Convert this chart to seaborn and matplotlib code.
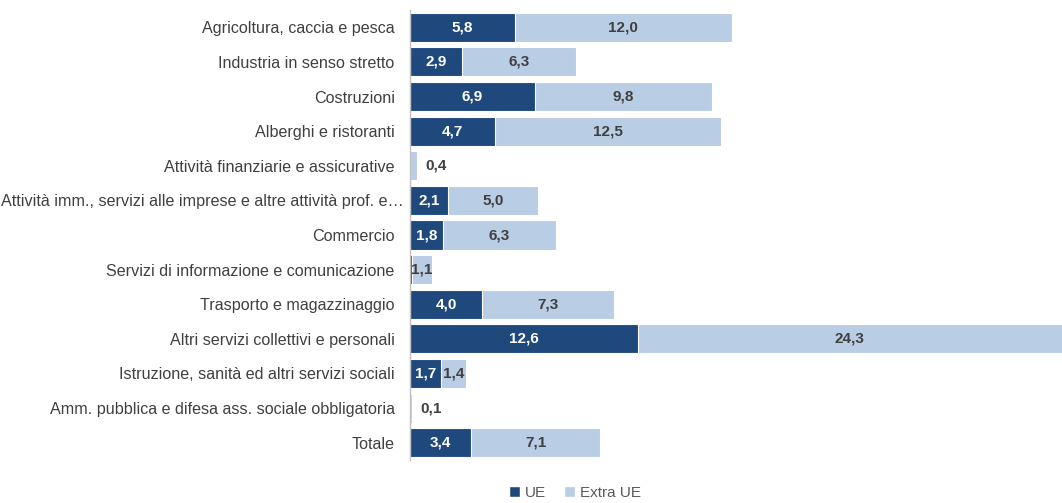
import matplotlib
matplotlib.use("Agg")
import matplotlib.pyplot as plt
import matplotlib.transforms as mtransforms
import seaborn as sns
import pandas as pd
from matplotlib.patches import Patch

categories = [
    "Agricoltura, caccia e pesca",
    "Industria in senso stretto",
    "Costruzioni",
    "Alberghi e ristoranti",
    "Attività finanziarie e assicurative",
    "Attività imm., servizi alle imprese e altre attività prof. e…",
    "Commercio",
    "Servizi di informazione e comunicazione",
    "Trasporto e magazzinaggio",
    "Altri servizi collettivi e personali",
    "Istruzione, sanità ed altri servizi sociali",
    "Amm. pubblica e difesa ass. sociale obbligatoria",
    "Totale",
]
ue = [5.8, 2.9, 6.9, 4.7, 0.0, 2.1, 1.8, 0.1, 4.0, 12.6, 1.7, 0.0, 3.4]
extra_ue = [12.0, 6.3, 9.8, 12.5, 0.4, 5.0, 6.3, 1.1, 7.3, 24.3, 1.4, 0.1, 7.1]
series_names = ["UE", "Extra UE"]

DARK = "#1F497D"
LIGHT = "#B9CDE5"
TXT = "#404040"
XMAX = 36.08

sns.set_style("white")
plt.rcParams["font.family"] = ["Liberation Sans", "DejaVu Sans"]

df = pd.DataFrame({"cat": categories, "ue": ue, "extra": extra_ue})
df["total"] = df["ue"] + df["extra"]

fig = plt.figure(figsize=(10.62, 5.03), dpi=100)
ax = fig.add_axes([410 / 1062, 43 / 503, 1 - 410 / 1062, 450 / 503])

sns.barplot(data=df, y="cat", x="total", color=LIGHT, orient="h", width=0.84,
            ax=ax, saturation=1, edgecolor="white", linewidth=0.8)
sns.barplot(data=df, y="cat", x="ue", color=DARK, orient="h", width=0.84,
            ax=ax, saturation=1, edgecolor="white", linewidth=0.8)

ax.set_xlim(0, XMAX)
ax.set_ylim(12.5, -0.5)
ax.set_xlabel("")
ax.set_ylabel("")
ax.set_xticks([])
for s in ["top", "right", "bottom"]:
    ax.spines[s].set_visible(False)
ax.spines["left"].set_color("#BFBFBF")
ax.spines["left"].set_linewidth(1)
ax.tick_params(axis="y", length=0, pad=11, labelsize=11.6, labelcolor=TXT)

for lbl in ax.get_yticklabels():
    if lbl.get_text().endswith("…"):
        lbl.set_transform(lbl.get_transform() +
                          mtransforms.ScaledTranslation(9 / 100, 0, fig.dpi_scale_trans))

fs = 11
for i, (u, e) in enumerate(zip(ue, extra_ue)):
    if u > 0.5:
        ax.text(u / 2, i, f"{u:.1f}".replace(".", ","), ha="center", va="center",
                color="white", fontsize=fs, fontweight="bold")
    lab = f"{e:.1f}".replace(".", ",")
    if e >= 1.0:
        right = min(u + e, XMAX)
        cx = (u + right) / 2
        ax.text(cx, i, lab, ha="center", va="center", color=TXT,
                fontsize=fs, fontweight="bold")
    elif e > 0:
        ax.text(u + e + 0.45, i, lab, ha="left", va="center", color=TXT,
                fontsize=fs, fontweight="bold")

handles = [Patch(facecolor=DARK, label=series_names[0]),
           Patch(facecolor=LIGHT, label=series_names[1])]
fig.legend(handles=handles, loc="center", bbox_to_anchor=(575 / 1062, 1 - 493 / 503),
           ncol=2, frameon=False, fontsize=11, handlelength=0.7, handleheight=0.7,
           handletextpad=0.3, columnspacing=1.2, labelcolor="#595959")

fig.savefig("out.png", dpi=100)
